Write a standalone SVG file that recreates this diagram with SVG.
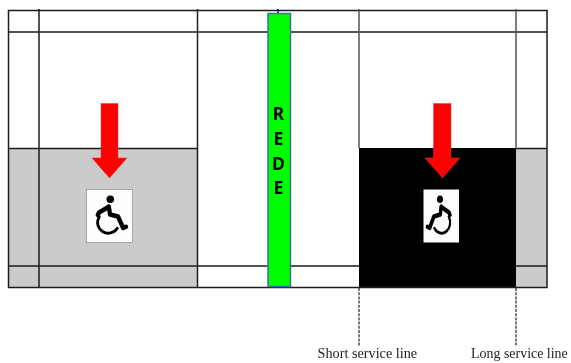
<svg xmlns="http://www.w3.org/2000/svg" xmlns:xlink="http://www.w3.org/1999/xlink" width="571" height="363" viewBox="0 0 571 363">
<style>
.court{stroke:#1c1c1c;stroke-width:1.5;fill:none}
.side{stroke:#555;stroke-width:1.5;fill:none}
.grey{fill:#cbcbcb}
.arrow{fill:#fe0000;stroke:#e63030;stroke-width:.5}
.card{fill:#fdfdfd;stroke:#8c8c8c;stroke-width:.7}
.dash{stroke:#333;stroke-width:1.300;stroke-dasharray:3 1.200;fill:none}
.net{font:bold 17.500px "Noto Sans","Liberation Sans",sans-serif;fill:#000;text-anchor:middle}
.cap{font:15.500px "Liberation Serif",serif;fill:#222}
.fig{fill:none;stroke:#000;stroke-width:4.400;stroke-linejoin:round;stroke-linecap:round}
</style>
<defs>
<filter id="soft" x="-2%" y="-2%" width="104%" height="104%"><feGaussianBlur stdDeviation="0.35"/></filter>
<g id="chair">
<circle cx="110.300" cy="199.200" r="3.800" fill="#000"/>
<path class="fig" d="M108.800 206.500L110 214.500L118 216.500L123.200 228L126 226.800"/>
<path class="fig" d="M108.500 207L99 212.500L97.800 215"/>
<path class="fig" style="stroke-width:2.800" d="M99.300 216.700A10.600 10.600 0 0 0 117.300 228.300"/>
</g>
</defs>
<rect width="571" height="363" fill="#fff"/>
<g filter="url(#soft)">
<g id="court-fills">
<rect class="grey" x="8.500" y="148.500" width="189" height="139"/>
<rect x="359" y="148" width="157" height="140" fill="#000"/>
<rect class="grey" x="516" y="148.500" width="31" height="139"/>
</g>
<g id="court-lines">
<rect class="court" x="8.500" y="10.500" width="538.500" height="277"/>
<path class="court" d="M8.500 32H547M8.500 148.500H197.500M516 148.500H547M8.500 266H359M516 266H547"/>
<path class="court" d="M39 9V287.500M197.500 9V287.500M278 9V13"/>
<path class="side" d="M359 9V148M516 9V148"/>
</g>
<g id="net">
<rect x="268" y="13.500" width="22.500" height="273" fill="#00fe00" stroke="#3d6f9e" stroke-width="1.500"/>
<text class="net" x="278.500" y="120">R</text>
<text class="net" x="278.500" y="144.500">E</text>
<text class="net" x="278.500" y="169.500">D</text>
<text class="net" x="278.500" y="194">E</text>
</g>
<g id="player-left">
<path class="arrow" d="M101 103.500H118V158H127L109.500 178L92 158H101Z"/>
<rect class="card" x="86.500" y="189.500" width="46" height="53"/>
<use xlink:href="#chair" href="#chair"/>
</g>
<g id="player-right">
<path class="arrow" d="M433.500 103.500H451V158H460L442.500 178L425 158H433.500Z"/>
<rect x="423.500" y="189.500" width="35.500" height="53" fill="#fdfdfd"/>
<use xlink:href="#chair" href="#chair" transform="translate(440 0) scale(-.8 1) translate(-110.300 0)"/>
</g>
<g id="service-lines">
<path class="dash" d="M359 288V346M516 288V346"/>
<text class="cap" transform="translate(317.500 358) scale(.92 1)">Short service line</text>
<text class="cap" transform="translate(471 358) scale(.9 1)">Long service line</text>
</g>
</g>
</svg>
